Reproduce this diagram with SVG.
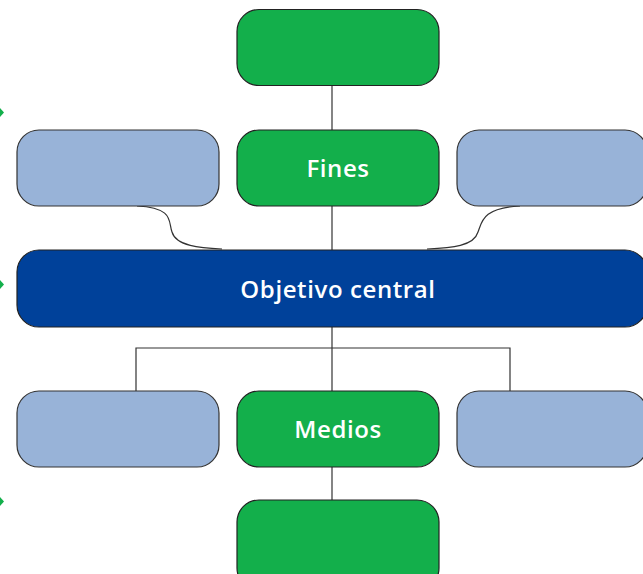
<svg xmlns="http://www.w3.org/2000/svg" width="643" height="574" viewBox="0 0 643 574">
<defs>
<style>
.g{fill:#13AF4B;stroke:#222;stroke-width:1.2}
.lb{fill:#98B3D8;stroke:#333;stroke-width:1.2}
.db{fill:#00419A;stroke:#222;stroke-width:1.2}
.t{fill:#fff;font-family:"Open Sans","Liberation Sans",sans-serif;font-size:24px;font-weight:600;letter-spacing:0.6px;text-anchor:middle}
.c{fill:none;stroke:#333;stroke-width:1.2}
.ar{fill:#13AF4B}
</style>
</defs>
<rect width="643" height="574" fill="#fff"/>
<g id="connectors">
<line class="c" x1="332" y1="86" x2="332" y2="130"/>
<line class="c" x1="332" y1="206" x2="332" y2="250"/>
<path class="c" d="M137 206 C175 208 168 222 172 232 C176 246 200 248 222 249"/>
<path class="c" d="M520 206 C482 208 482 222 478 232 C474 246 452 248 427 249"/>
<line class="c" x1="332" y1="327" x2="332" y2="391"/>
<polyline class="c" points="136,391 136,348 510,348 510,391"/>
<line class="c" x1="332" y1="467" x2="332" y2="500"/>
</g>
<g id="arrows">
<polygon class="ar" points="0,108 4,112.5 0,117"/>
<polygon class="ar" points="0,280 4,284.5 0,289"/>
<polygon class="ar" points="0,497 4,501.5 0,506"/>
</g>
<g id="top"><rect class="g" x="237" y="9.5" width="202" height="76" rx="22"/></g>
<g id="fines"><rect class="g" x="237" y="130" width="202" height="76" rx="22"/><text class="t" x="338" y="177">Fines</text></g>
<g id="left1"><rect class="lb" x="17" y="130" width="202" height="76" rx="22"/></g>
<g id="right1"><rect class="lb" x="457" y="130" width="190" height="76" rx="22"/></g>
<g id="objetivo"><rect class="db" x="17" y="250" width="630" height="77" rx="22"/><text class="t" x="338" y="298">Objetivo central</text></g>
<g id="left2"><rect class="lb" x="17" y="391" width="202" height="76" rx="22"/></g>
<g id="medios"><rect class="g" x="237" y="391" width="202" height="76" rx="22"/><text class="t" x="338" y="438">Medios</text></g>
<g id="right2"><rect class="lb" x="457" y="391" width="190" height="76" rx="22"/></g>
<g id="bottom"><rect class="g" x="237" y="500" width="202" height="90" rx="22"/></g>
</svg>
